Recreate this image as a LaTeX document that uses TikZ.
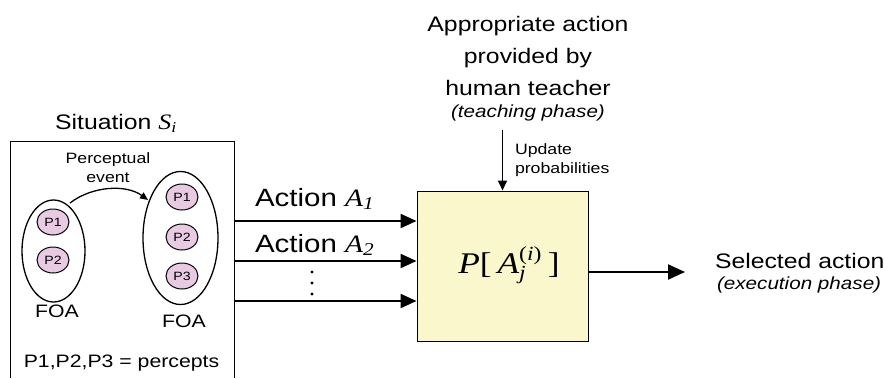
\documentclass[tikz,border=0pt]{standalone}
\usepackage{fontspec}
\setmainfont{Liberation Sans}
\newfontfamily\tnr{Liberation Serif}
\usepackage{graphicx}
\usetikzlibrary{arrows.meta,shapes.geometric}
\newcommand{\sx}[1]{\scalebox{1.18}[1]{#1}}
\newcommand{\fs}[1]{\fontsize{#1}{#1}\selectfont}
\newcommand{\mi}[2]{\mbox{\tnr\itshape\fs{#1}#2}}
\definecolor{boxyellow}{RGB}{250,247,205}
\definecolor{pinkfill}{RGB}{232,202,226}
\begin{document}
\begin{tikzpicture}[x=1pt,y=-1pt,
  txt/.style={inner sep=0pt,outer sep=0pt,anchor=base},
  foaell/.style={ellipse,draw,line width=1.3pt,inner sep=0pt},
  pcirc/.style={ellipse,draw,line width=1pt,fill=pinkfill,minimum width=32pt,minimum height=26pt,inner sep=0pt,font=\fs{12}},
  bigarrow/.style={line width=2.2pt,-{Triangle[length=16pt,width=14pt]}},
  midarrow/.style={line width=1.8pt,-{Triangle[length=10pt,width=9pt]}},
  smallarrow/.style={line width=1.3pt,-{Triangle[length=8pt,width=7pt]}},
  dotmark/.style={circle,fill=black,inner sep=0pt,minimum size=3.4pt}]
\useasboundingbox (0,0) rectangle (885,378);

% situation box (open at bottom)
\coordinate (sbl) at (10,378);
\coordinate (sbr) at (234,378);
\coordinate (stl) at (10,141);
\coordinate (str) at (234,141);
\draw[line width=1pt] (sbl) -- (stl) -- (str) -- (sbr);
\node[txt] (sit) at (116,129) {\sx{\fs{21}Situation $\mi{22}{S}_{\mi{15}{i}}$}};

% perceptual event
\node[txt] (perc1) at (108,163) {\sx{\fs{15}Perceptual}};
\node[txt] (perc2) at (108,182) {\sx{\fs{15}event}};

% FOA ellipses
\node[foaell,minimum width=63pt,minimum height=102pt] (le) at (53.5,251) {};
\node[pcirc] (lp1) at (53,222) {\sx{P1}};
\node[pcirc] (lp2) at (53,260) {\sx{P2}};
\node[foaell,minimum width=75pt,minimum height=133pt] (re) at (180.5,238) {};
\node[pcirc] (rp1) at (182,197) {\sx{P1}};
\node[pcirc] (rp2) at (182,237) {\sx{P2}};
\node[pcirc] (rp3) at (182,276) {\sx{P3}};
\node[txt] (foa1) at (57,317) {\sx{\fs{18}FOA}};
\node[txt] (foa2) at (184,327) {\sx{\fs{18}FOA}};
\node[txt] (perc) at (121.5,367) {\sx{\fs{18}P1,P2,P3 = percepts}};

\coordinate (evs) at (70,203);
\coordinate (eve) at (148,200);
\draw[smallarrow] (evs) .. controls (92,186) and (126,184) .. (eve);

% probability box
\node[draw,line width=1pt,fill=boxyellow,minimum width=171pt,minimum height=150pt,inner sep=0pt] (pbox) at (502.5,266) {};
\node[txt] (plab) at (509,273) {\sx{\fs{30}\tnr\itshape P\upshape[\,$\mi{30}{A}^{\mbox{\tnr\fs{20}(\itshape i\upshape)}}_{\mi{20}{j}}$\,]}};

% action arrows
\coordinate (a1) at (234,221);
\coordinate (a2) at (234,261);
\coordinate (a3) at (234,301);
\draw[bigarrow] (a1) -- (a1 -| pbox.west);
\draw[bigarrow] (a2) -- (a2 -| pbox.west);
\draw[bigarrow] (a3) -- (a3 -| pbox.west);
\node[txt,anchor=base west] (act1) at (255,206) {\sx{\fs{25}Action $\mi{25}{A}_{\mi{18}{1}}$}};
\node[txt,anchor=base west] (act2) at (255,252) {\sx{\fs{25}Action $\mi{25}{A}_{\mi{18}{2}}$}};
\node[dotmark] (d1) at (312,272) {};
\node[dotmark] (d2) at (312,283) {};
\node[dotmark] (d3) at (312,294) {};

% teacher text
\node[txt] (t1) at (528,31) {\sx{\fs{21}Appropriate action}};
\node[txt] (t2) at (528,63) {\sx{\fs{21}provided by}};
\node[txt] (t3) at (528,95) {\sx{\fs{21}human teacher}};
\node[txt] (t4) at (528,117) {\sx{\fs{17.5}\itshape(teaching phase)}};
\coordinate (upd) at (502.5,130);
\draw[midarrow] (upd) -- (pbox.north);
\node[txt,anchor=base west] (u1) at (515,154) {\sx{\fs{15}Update}};
\node[txt,anchor=base west] (u2) at (515,173) {\sx{\fs{15}probabilities}};

% output
\coordinate (out) at (685,272);
\draw[line width=2.2pt,-{Triangle[length=17pt,width=15pt]}] (out -| pbox.east) -- (out);
\node[txt,anchor=base west] (sel) at (715,268) {\sx{\fs{21}Selected action}};
\node[txt,anchor=base west] (exe) at (717,289) {\sx{\fs{17.5}\itshape(execution phase)}};
\end{tikzpicture}
\end{document}
